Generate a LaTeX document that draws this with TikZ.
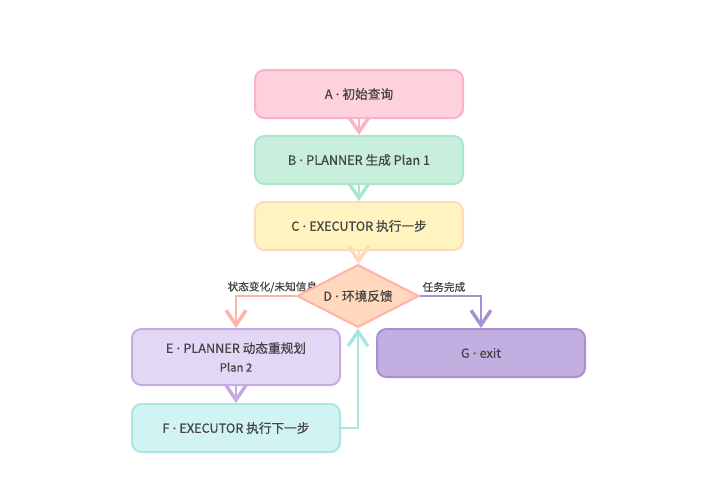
\documentclass[tikz,border=0pt]{standalone}
\usepackage{fontspec}
\setmainfont{Noto Sans CJK SC}[FakeBold=0.6]
\newfontfamily\dotfont{Noto Sans}[FakeBold=0.6]
\newcommand{\sepdot}{{\dotfont\ ·\ }}
\usepackage{tikz}
\usetikzlibrary{shapes.geometric, arrows.meta, positioning}

\definecolor{pinkfill}{HTML}{FFD1DC}
\definecolor{pinkline}{HTML}{F8B4C6}
\definecolor{mintfill}{HTML}{C8EFDC}
\definecolor{mintline}{HTML}{A8E6CF}
\definecolor{lemonfill}{HTML}{FFF4BF}
\definecolor{lemonline}{HTML}{FFD9B8}
\definecolor{peachfill}{HTML}{FFD8BE}
\definecolor{peachline}{HTML}{FFB3A7}
\definecolor{lilacfill}{HTML}{E3D7F6}
\definecolor{lilacline}{HTML}{C4ACE2}
\definecolor{aquafill}{HTML}{D2F3F3}
\definecolor{aqualine}{HTML}{A8E6E0}
\definecolor{grapefill}{HTML}{C3AEE1}
\definecolor{grapeline}{HTML}{A890D2}
\definecolor{textgray}{HTML}{444444}

\begin{document}
\begin{tikzpicture}[x=0.75pt, y=-0.75pt,
    step box/.style={rectangle, rounded corners=7pt, line width=1.5pt,
      minimum width=156pt, minimum height=36pt, align=center,
      text=textgray, font=\fontsize{9.5pt}{13pt}\selectfont},
    decision/.style={diamond, aspect=2, inner sep=0pt, line width=1.5pt,
      minimum width=91.5pt, minimum height=47pt, text=textgray,
      font=\fontsize{9.5pt}{12pt}\selectfont},
    flowarrow/.style={line width=1.5pt,
      -{Straight Barb[length=11pt, width=15pt, line width=2.6pt]}},
    edgelabel/.style={text=textgray, font=\fontsize{8pt}{10pt}\selectfont,
      inner sep=1pt},
    subline/.style={font=\fontsize{8.5pt}{10pt}\selectfont} ]

    \useasboundingbox (0,0) rectangle (718,496);

    % Edge labels (behind the diamond)
    \node[edgelabel, anchor=west] (lblE) at (226,287) {状态变化/未知信息};
    \node[edgelabel, anchor=west] (lblG) at (421,287) {任务完成};

    % Main steps
    \node[step box, fill=pinkfill, draw=pinkline] (A) at (359,94) {A\sepdot 初始查询};
    \node[step box, fill=mintfill, draw=mintline] (B) at (359,160) {B\sepdot PLANNER 生成 Plan 1};
    \node[step box, fill=lemonfill, draw=lemonline] (C) at (359,226) {C\sepdot EXECUTOR 执行一步};

    % Decision
    \node[decision, fill=peachfill, draw=peachline] (D) at (358,296) {D\sepdot 环境反馈};

    % Branches
    \node[step box, fill=lilacfill, draw=lilacline, minimum height=42pt]
      (E) at (236,357) {E\sepdot PLANNER 动态重规划\\[1pt]{\fontsize{8.5pt}{10pt}\selectfont Plan 2}};
    \node[step box, fill=aquafill, draw=aqualine] (F) at (236,428) {F\sepdot EXECUTOR 执行下一步};
    \node[step box, fill=grapefill, draw=grapeline] (G) at (481,353) {G\sepdot exit};

    % Arrows
    \draw[flowarrow, pinkline] (A) -- (B);
    \draw[flowarrow, mintline] (B) -- (C);
    \draw[flowarrow, lemonline] (C) -- (D);
    \draw[flowarrow, peachline] (D.west) -| (E.north);
    \draw[flowarrow, grapeline] (D.east) -| (G.north);
    \draw[flowarrow, lilacline] (E) -- (F);
    \draw[flowarrow, aqualine] (F.east) -| (D.south);

\end{tikzpicture}
\end{document}
